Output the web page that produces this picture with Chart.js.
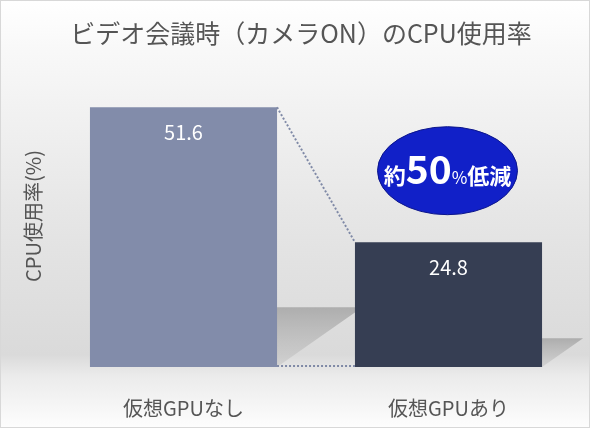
<!DOCTYPE html>
<html>
<head>
<meta charset="utf-8">
<script src="https://cdn.jsdelivr.net/npm/chart.js@4.4.0/dist/chart.umd.min.js"></script>
<style>
  body { margin: 0; background: #fff; }
  #wrap { width: 590px; height: 428px; position: relative; box-sizing: border-box; border: 1px solid #d8d8d8; }
  canvas { display: block; }
</style>
</head>
<body>
<div id="wrap"><canvas id="cpuChart" width="588" height="426"></canvas></div>
<script>
// data
const categories = ['仮想GPUなし', '仮想GPUあり'];
const cpuUsage = [51.6, 24.8];
const barColors = ['#828caa', '#363e53'];
const titleText = 'ビデオ会議時（カメラON）のCPU使用率';
const yTitle = 'CPU使用率(%)';
const badgeParts = ['約', '50', '%', '低減'];

const FONT = "'Noto Sans CJK JP', 'Noto Sans', sans-serif";
const textGray = '#555';

// background: white -> grey -> white
const bgPlugin = {
    id: 'bg',
    beforeDraw(chart) {
        let ctx = chart.ctx;
        let g = ctx.createLinearGradient(0, 0, 0, chart.height);
        g.addColorStop(0, '#ffffff');
        g.addColorStop(0.12, '#f8f8f8');
        g.addColorStop(0.5, '#e6e6e6');
        g.addColorStop(0.83, '#dadada');
        g.addColorStop(0.88, '#ebebeb');
        g.addColorStop(1, '#fdfdfd');
        ctx.save();
        ctx.fillStyle = g;
        ctx.fillRect(0, 0, chart.width, chart.height);
        ctx.restore();
    }
};

// slanted floor shadows behind the bars
const shadowPlugin = {
    id: 'shadows',
    beforeDatasetsDraw(chart) {
        let ctx = chart.ctx;
        let bars = chart.getDatasetMeta(0).data;
        ctx.save();
        bars.forEach(b => {
            let left = b.x - b.width / 2, right = b.x + b.width / 2;
            let h = (b.base - b.y) * 0.23;
            let dx = h / 0.7;
            let g = ctx.createLinearGradient(0, b.base - h, 0, b.base);
            g.addColorStop(0, 'rgba(165,165,165,0.85)');
            g.addColorStop(1, 'rgba(200,200,200,0.6)');
            ctx.fillStyle = g;
            ctx.beginPath();
            ctx.moveTo(left, b.base);
            ctx.lineTo(left + dx, b.base - h);
            ctx.lineTo(right + dx, b.base - h);
            ctx.lineTo(right, b.base);
            ctx.closePath();
            ctx.fill();
        });
        ctx.restore();
    }
};

// dotted connectors, value labels, badge
const overlayPlugin = {
    id: 'overlay',
    afterDatasetsDraw(chart) {
        let ctx = chart.ctx;
        let bars = chart.getDatasetMeta(0).data;
        let b1 = bars[0], b2 = bars[1];
        ctx.save();
        ctx.strokeStyle = '#7f89a6';
        ctx.lineWidth = 2;
        ctx.setLineDash([2, 2]);
        ctx.beginPath();
        ctx.moveTo(b1.x + b1.width / 2, b1.y);
        ctx.lineTo(b2.x - b2.width / 2, b2.y);
        ctx.moveTo(b1.x + b1.width / 2, b1.base - 1);
        ctx.lineTo(b2.x - b2.width / 2, b2.base - 1);
        ctx.stroke();
        ctx.setLineDash([]);

        // values
        ctx.fillStyle = '#fff';
        ctx.font = '20px ' + FONT;
        ctx.textAlign = 'center';
        ctx.textBaseline = 'middle';
        bars.forEach((b, i) => {
            ctx.fillText(cpuUsage[i].toFixed(1), b.x, b.y + 25);
        });

        // badge ellipse
        let cx = b2.x - 1;
        let cy = chart.scales.y.getPixelForValue(39);
        ctx.fillStyle = '#1120c8';
        ctx.strokeStyle = '#0c168c';
        ctx.lineWidth = 1;
        ctx.beginPath();
        ctx.ellipse(cx, cy, 70, 44, 0, 0, Math.PI * 2);
        ctx.fill();
        ctx.stroke();

        let fonts = ['bold 22px ' + FONT, 'bold 39px ' + FONT, '17px ' + FONT, 'bold 22px ' + FONT];
        let widths = badgeParts.map((t, i) => { ctx.font = fonts[i]; return ctx.measureText(t).width; });
        let total = widths.reduce((a, c) => a + c, 0);
        let x = cx - total / 2;
        ctx.fillStyle = '#fff';
        ctx.textAlign = 'left';
        ctx.textBaseline = 'alphabetic';
        badgeParts.forEach((t, i) => {
            ctx.font = fonts[i];
            ctx.fillText(t, x, cy + 13);
            x += widths[i];
        });
        ctx.restore();
    }
};

new Chart(document.getElementById('cpuChart'), {
    type: 'bar',
    data: {
        labels: categories,
        datasets: [{
            data: cpuUsage,
            backgroundColor: barColors,
            borderWidth: 0,
            barPercentage: 1,
            categoryPercentage: 0.706
        }]
    },
    options: {
        responsive: false,
        animation: false,
        layout: { padding: { left: 20, right: 8, top: 0, bottom: 7 } },
        plugins: {
            legend: { display: false },
            tooltip: { enabled: false },
            title: {
                display: true,
                text: titleText,
                color: textGray,
                font: { family: FONT, size: 25, weight: 'normal' },
                padding: { top: 17, bottom: 17 }
            }
        },
        scales: {
            y: {
                min: 0,
                max: 60,
                grid: { display: false },
                border: { display: false },
                ticks: { display: false },
                title: {
                    display: true,
                    text: yTitle,
                    color: textGray,
                    font: { family: FONT, size: 20 },
                    padding: 0
                },
                afterFit(scale) { scale.width = 30; }
            },
            x: {
                grid: { display: false, drawTicks: false },
                border: { display: false },
                ticks: {
                    color: textGray,
                    font: { family: FONT, size: 20 },
                    padding: 29
                },
                afterFit(scale) { scale.height = 53; }
            }
        }
    },
    plugins: [bgPlugin, shadowPlugin, overlayPlugin]
});
</script>
</body>
</html>
